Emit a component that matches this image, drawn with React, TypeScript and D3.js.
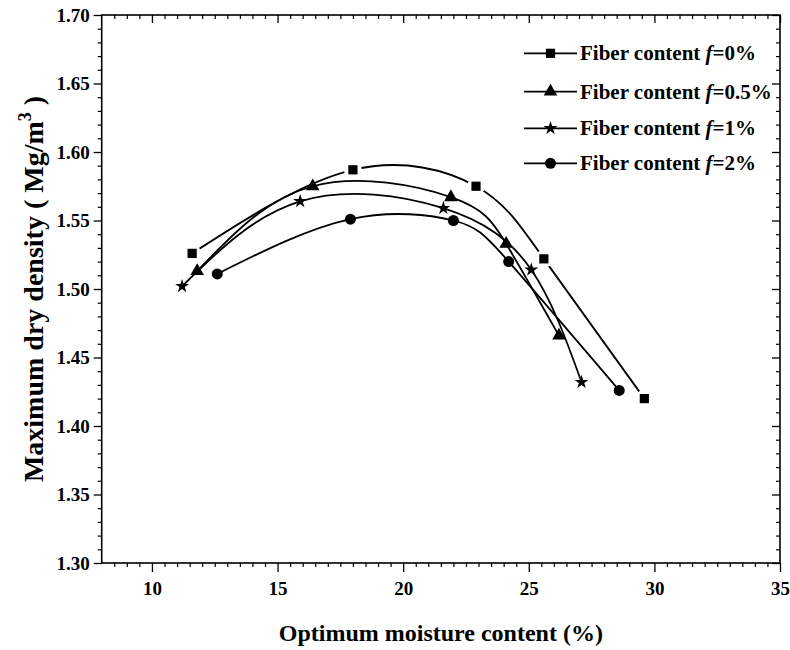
import React, { useEffect, useRef } from "react";
import * as d3 from "d3";

const seriesNames = ["Fiber content ", "Fiber content ", "Fiber content ", "Fiber content "];
const seriesPct = ["=0%", "=0.5%", "=1%", "=2%"];
const symbolKinds = ["square", "triangle", "star", "circle"];

const x0 = [11.6, 18.0, 22.9, 25.6, 29.6];
const y0 = [1.526, 1.587, 1.575, 1.522, 1.42];
const x05 = [11.8, 16.4, 21.9, 24.1, 26.2];
const y05 = [1.513, 1.575, 1.567, 1.533, 1.466];
const x1 = [11.2, 15.9, 21.6, 25.1, 27.1];
const y1 = [1.502, 1.564, 1.559, 1.514, 1.432];
const x2 = [12.6, 17.9, 22.0, 24.2, 28.6];
const y2 = [1.511, 1.551, 1.55, 1.52, 1.426];

const xTicks = [10, 15, 20, 25, 30, 35];
const yTicks = [1.3, 1.35, 1.4, 1.45, 1.5, 1.55, 1.6, 1.65, 1.7];

const FONT = "Liberation Serif, DejaVu Serif, Times New Roman, Times, serif";

export default function App() {
  const ref = useRef<SVGSVGElement>(null);
  useEffect(() => {
    const svg = d3.select(ref.current);
    svg.selectAll("*").remove();
    const L = 101.7, R = 780, T = 15, B = 563;
    const x = d3.scaleLinear().domain([8, 35]).range([L, R]);
    const y = d3.scaleLinear().domain([1.3, 1.7]).range([B, T]);

    const series = [
      { xs: x0, ys: y0 },
      { xs: x05, ys: y05 },
      { xs: x1, ys: y1 },
      { xs: x2, ys: y2 },
    ];

    const symType: any = {
      square: d3.symbolSquare,
      triangle: d3.symbolTriangle,
      star: d3.symbolStar,
      circle: d3.symbolCircle,
    };
    const symSize: any = { square: 85, triangle: 80, star: 60, circle: 95 };

    const xMinor = d3.range(8.5, 35.001, 0.5).filter((v) => Math.abs(v % 5) > 1e-6);
    const yMinor = d3.range(1.31, 1.7, 0.01).filter((v) => Math.abs(Math.round(v * 100) % 5) !== 0);

    const g = svg.append("g");

    const axB = g.append("g").attr("transform", `translate(0,${B})`).call(
      d3.axisBottom(x).tickValues(xTicks).tickSize(9).tickFormat(d3.format("d") as any)
    );
    axB.select(".domain").remove();
    axB.selectAll("text").attr("font-family", FONT).attr("font-weight", "bold").attr("font-size", 19).attr("fill", "#000").attr("dy", "1.05em").attr("y", 12);
    axB.selectAll("line").attr("stroke-width", 1.3);
    g.append("g").attr("transform", `translate(0,${B})`).call(
      d3.axisBottom(x).tickValues(xMinor).tickSize(4).tickFormat(() => "")
    ).call((s) => s.select(".domain").remove()).selectAll("line").attr("stroke-width", 1.2);

    const axT = g.append("g").attr("transform", `translate(0,${T})`).call(
      d3.axisBottom(x).tickValues(xTicks).tickSize(8).tickFormat(() => "")
    );
    axT.select(".domain").remove();
    axT.selectAll("line").attr("stroke-width", 1.3);
    g.append("g").attr("transform", `translate(0,${T})`).call(
      d3.axisBottom(x).tickValues(xMinor).tickSize(4).tickFormat(() => "")
    ).call((s) => s.select(".domain").remove()).selectAll("line").attr("stroke-width", 1.2);

    const axL = g.append("g").attr("transform", `translate(${L},0)`).call(
      d3.axisLeft(y).tickValues(yTicks).tickSize(8).tickFormat(d3.format(".2f") as any)
    );
    axL.select(".domain").remove();
    axL.selectAll("text").attr("font-family", FONT).attr("font-weight", "bold").attr("font-size", 19).attr("fill", "#000").attr("x", -12);
    axL.selectAll("line").attr("stroke-width", 1.3);
    g.append("g").attr("transform", `translate(${L},0)`).call(
      d3.axisLeft(y).tickValues(yMinor).tickSize(4).tickFormat(() => "")
    ).call((s) => s.select(".domain").remove()).selectAll("line").attr("stroke-width", 1.2);

    const axR = g.append("g").attr("transform", `translate(${R},0)`).call(
      d3.axisLeft(y).tickValues(yTicks).tickSize(8).tickFormat(() => "")
    );
    axR.select(".domain").remove();
    axR.selectAll("line").attr("stroke-width", 1.3);
    g.append("g").attr("transform", `translate(${R},0)`).call(
      d3.axisLeft(y).tickValues(yMinor).tickSize(4).tickFormat(() => "")
    ).call((s) => s.select(".domain").remove()).selectAll("line").attr("stroke-width", 1.2);

    g.append("rect").attr("x", L).attr("y", T).attr("width", R - L).attr("height", B - T)
      .attr("fill", "none").attr("stroke", "#000").attr("stroke-width", 1.6);

    const defs = svg.append("defs");
    const mask = defs.append("mask").attr("id", "sqmask").attr("maskUnits", "userSpaceOnUse");
    mask.append("rect").attr("x", 0).attr("y", 0).attr("width", 790).attr("height", 650).attr("fill", "#fff");
    x0.forEach((v, i) => {
      mask.append("circle").attr("cx", x(v)).attr("cy", y(y0[i])).attr("r", 9).attr("fill", "#000");
    });

    series.forEach((s, si) => {
      const pts: [number, number][] = s.xs.map((v, i) => [x(v), y(s.ys[i])]);
      const ln = d3.line<[number, number]>().x((d) => d[0]).y((d) => d[1]).curve(d3.curveNatural);
      const p = g.append("path").attr("d", ln(pts)).attr("fill", "none").attr("stroke", "#000").attr("stroke-width", 1.8);
      if (si === 0) p.attr("mask", "url(#sqmask)");
    });
    series.forEach((s, si) => {
      const k = symbolKinds[si];
      s.xs.forEach((v, i) => {
        g.append("path").attr("d", d3.symbol().type(symType[k]).size(symSize[k])() as string)
          .attr("transform", `translate(${x(v)},${y(s.ys[i])})`).attr("fill", "#000");
      });
    });

    const legY = [53.3, 91.7, 128.3, 163.3];
    legY.forEach((ly, i) => {
      const k = symbolKinds[i];
      g.append("line").attr("x1", 524).attr("x2", 577).attr("y1", ly).attr("y2", ly).attr("stroke", "#000").attr("stroke-width", 1.8);
      g.append("path").attr("d", d3.symbol().type(symType[k]).size(symSize[k])() as string)
        .attr("transform", `translate(550.5,${ly})`).attr("fill", "#000");
      const t = g.append("text").attr("x", 580).attr("y", ly + 7).attr("font-family", FONT)
        .attr("font-weight", "bold").attr("font-size", 21).attr("fill", "#000");
      t.append("tspan").text(seriesNames[i]);
      t.append("tspan").attr("font-style", "italic").text("f");
      t.append("tspan").text(seriesPct[i]);
    });

    g.append("text").attr("x", (L + R) / 2).attr("y", 641).attr("text-anchor", "middle")
      .attr("font-family", FONT).attr("font-weight", "bold").attr("font-size", 24).attr("fill", "#000")
      .text("Optimum moisture content (%)");

    const yt = g.append("text").attr("transform", `translate(43,${(T + B) / 2}) rotate(-90)`)
      .attr("text-anchor", "middle").attr("font-family", FONT).attr("font-weight", "bold")
      .attr("font-size", 28).attr("fill", "#000");
    yt.append("tspan").text("Maximum dry density ( Mg/m");
    yt.append("tspan").attr("font-size", 18).attr("dy", -12).text("3");
    yt.append("tspan").attr("dy", 12).text(" )");
  }, []);

  return (
    <svg ref={ref} width={790} height={650} style={{ position: "absolute", left: 0, top: 0, background: "#fff" }} />
  );
}
